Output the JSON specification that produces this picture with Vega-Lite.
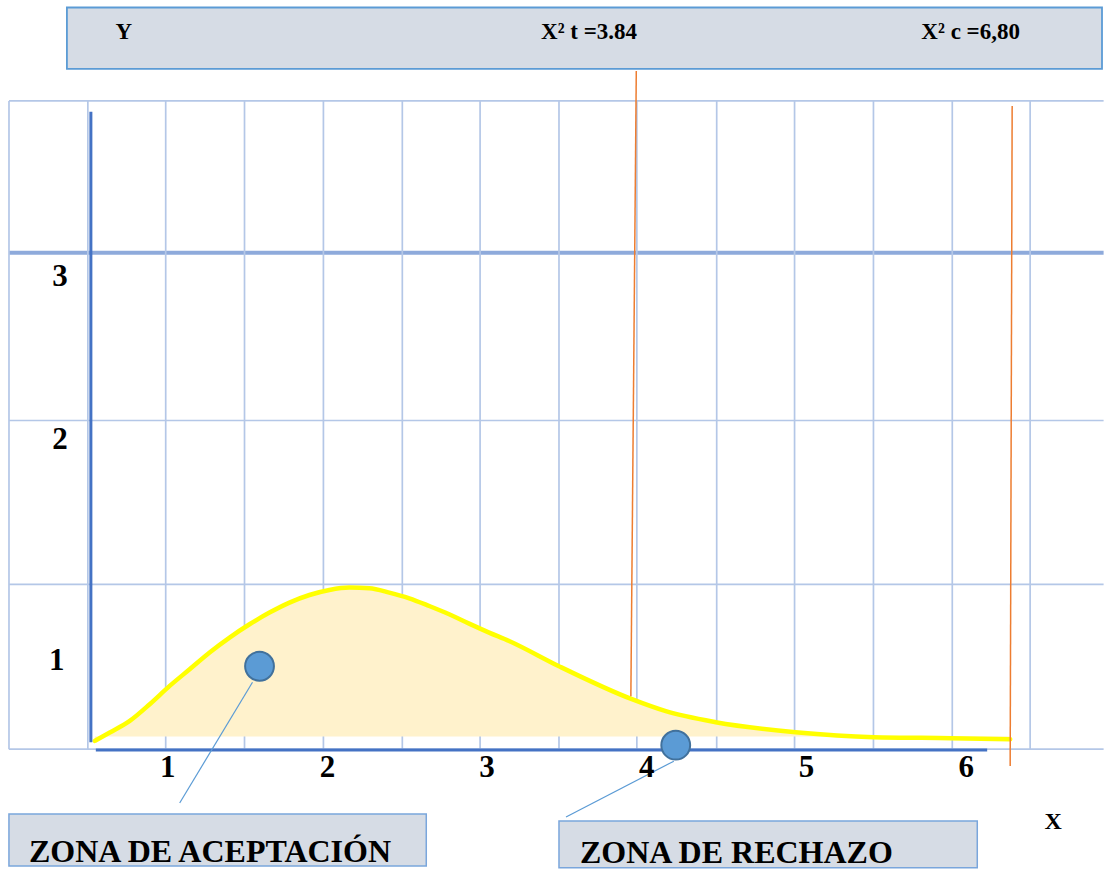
{
  "$schema": "https://vega.github.io/schema/vega-lite/v6.json",
  "width": 1106,
  "height": 870,
  "autosize": {"type": "fit", "contains": "padding"},
  "padding": 0,
  "background": "white",
  "config": {"view": {"stroke": null}},
  "datasets": {
    "hgrid": [
      {"y": 3.933, "x": 0.00625, "x2": 6.86},
      {"y": 1.994, "x": 0.00625, "x2": 6.86},
      {"y": 1.0, "x": 0.00625, "x2": 6.86},
      {"y": 0.0, "x": 0.00625, "x2": 6.86}
    ],
    "hthick": [{"y": 3.012, "x": 0.00625, "x2": 6.86}],
    "vgrid": [
      {"x": 0.00625, "y": 3.933, "y2": 0}, {"x": 0.5, "y": 3.933, "y2": 0}, {"x": 0.9875, "y": 3.933, "y2": 0},
      {"x": 1.481, "y": 3.933, "y2": 0}, {"x": 1.975, "y": 3.933, "y2": 0}, {"x": 2.469, "y": 3.933, "y2": 0},
      {"x": 2.956, "y": 3.933, "y2": 0}, {"x": 3.45, "y": 3.933, "y2": 0}, {"x": 3.9375, "y": 3.933, "y2": 0},
      {"x": 4.4375, "y": 3.933, "y2": 0}, {"x": 4.925, "y": 3.933, "y2": 0}, {"x": 5.419, "y": 3.933, "y2": 0},
      {"x": 5.9125, "y": 3.933, "y2": 0}, {"x": 6.4, "y": 3.933, "y2": 0}
    ],
    "curve": [
      {"x": 0.54375, "y": 0.0503}, {"x": 0.6375, "y": 0.1012}, {"x": 0.7625, "y": 0.1715}, {"x": 0.8875, "y": 0.2727},
      {"x": 1.0125, "y": 0.3836}, {"x": 1.1375, "y": 0.4848}, {"x": 1.2625, "y": 0.5867}, {"x": 1.3875, "y": 0.677},
      {"x": 1.5125, "y": 0.7576}, {"x": 1.6375, "y": 0.8285}, {"x": 1.7625, "y": 0.8891}, {"x": 1.8875, "y": 0.9352},
      {"x": 2.0125, "y": 0.9655}, {"x": 2.1375, "y": 0.98}, {"x": 2.2625, "y": 0.9758}, {"x": 2.3875, "y": 0.9497},
      {"x": 2.5125, "y": 0.9152}, {"x": 2.6375, "y": 0.8685}, {"x": 2.7625, "y": 0.8182}, {"x": 2.8875, "y": 0.7618},
      {"x": 3.0125, "y": 0.7073}, {"x": 3.1375, "y": 0.6564}, {"x": 3.45, "y": 0.503},
      {"x": 3.90625, "y": 0.303}, {"x": 4.11875, "y": 0.2303}, {"x": 4.43125, "y": 0.1636}, {"x": 4.93125, "y": 0.103},
      {"x": 5.41875, "y": 0.0727}, {"x": 5.90625, "y": 0.0667}, {"x": 6.275, "y": 0.0606}
    ],
    "segments": [
      {"kind": "critical", "x": 3.934, "y": 4.115, "x2": 3.9, "y2": 0.321},
      {"kind": "critical", "x": 6.2875, "y": 3.903, "x2": 6.275, "y2": -0.103},
      {"kind": "axis", "x": 0.519, "y": 3.867, "x2": 0.519, "y2": 0.042},
      {"kind": "axis", "x": 0.55, "y": -0.006, "x2": 6.131, "y2": -0.006},
      {"kind": "callout", "x": 1.531, "y": 0.406, "x2": 1.075, "y2": -0.327},
      {"kind": "callout", "x": 4.169, "y": -0.073, "x2": 3.494, "y2": -0.412}
    ],
    "points": [{"zona": "aceptación", "x": 1.575, "y": 0.503}, {"zona": "rechazo", "x": 4.181, "y": 0.024}],
    "boxes": [
      {"box": "top", "x": 0.369, "x2": 6.85, "y": 4.5, "y2": 4.127},
      {"box": "aceptación", "x": 0.006, "x2": 2.619, "y": -0.394, "y2": -0.709},
      {"box": "rechazo", "x": 3.45, "x2": 6.069, "y": -0.436, "y2": -0.72}
    ],
    "headerY": [{"text": "Y", "x": 0.725, "y": 4.352}],
    "header": [
      {"text": "X² t =3.84", "x": 3.3375, "y": 4.352},
      {"text": "X² c =6,80", "x": 5.719, "y": 4.352}
    ],
    "yticks": [{"text": "3", "x": 0.325, "y": 2.867}, {"text": "2", "x": 0.325, "y": 1.873}, {"text": "1", "x": 0.306, "y": 0.533}],
    "xticks": [{"text": "1", "x": 1, "y": -0.115}, {"text": "2", "x": 2, "y": -0.115}, {"text": "3", "x": 3, "y": -0.115}, {"text": "4", "x": 4, "y": -0.115}, {"text": "5", "x": 5, "y": -0.115}, {"text": "6", "x": 6, "y": -0.115}],
    "xtitle": [{"text": "X", "x": 6.544, "y": -0.442}],
    "zones": [{"text": "ZONA DE ACEPTACIÓN", "x": 0.13125, "y": -0.685}, {"text": "ZONA DE RECHAZO", "x": 3.581, "y": -0.691}]
  },
  "encoding": {
    "x": {"field": "x", "type": "quantitative", "axis": null, "scale": {"domain": [-0.05, 6.8625], "nice": false, "zero": false}},
    "y": {"field": "y", "type": "quantitative", "axis": null, "scale": {"domain": [-0.7273, 4.5455], "nice": false, "zero": false}}
  },
  "layer": [
    {
      "data": {"name": "hgrid"},
      "mark": {"type": "rule", "color": "#b4c7e7", "strokeWidth": 1.7},
      "encoding": {"x2": {"field": "x2"}}
    },
    {
      "data": {"name": "hthick"},
      "mark": {"type": "rule", "color": "#8eaadb", "strokeWidth": 4},
      "encoding": {"x2": {"field": "x2"}}
    },
    {
      "data": {"name": "vgrid"},
      "mark": {"type": "rule", "color": "#b4c7e7", "strokeWidth": 1.7},
      "encoding": {"y2": {"field": "y2"}}
    },
    {
      "data": {"name": "curve"},
      "mark": {"type": "area", "color": "#fff2cc", "interpolate": "monotone", "opacity": 1},
      "encoding": {"y2": {"datum": 0.076}}
    },
    {
      "data": {"name": "curve"},
      "mark": {"type": "line", "color": "#ffff00", "strokeWidth": 4.5, "interpolate": "monotone", "strokeCap": "round"},
      "encoding": {}
    },
    {
      "data": {"name": "segments"},
      "transform": [{"filter": "datum.kind === 'critical'"}],
      "mark": {"type": "rule", "color": "#ed7d31", "strokeWidth": 1.5},
      "encoding": {"x2": {"field": "x2"}, "y2": {"field": "y2"}}
    },
    {
      "data": {"name": "segments"},
      "transform": [{"filter": "datum.kind === 'axis'"}],
      "mark": {"type": "rule", "color": "#4472c4", "strokeWidth": 3},
      "encoding": {"x2": {"field": "x2"}, "y2": {"field": "y2"}}
    },
    {
      "data": {"name": "segments"},
      "transform": [{"filter": "datum.kind === 'callout'"}],
      "mark": {"type": "rule", "color": "#5b9bd5", "strokeWidth": 1.2},
      "encoding": {"x2": {"field": "x2"}, "y2": {"field": "y2"}}
    },
    {
      "data": {"name": "points"},
      "mark": {"type": "point", "shape": "circle", "filled": true, "fill": "#5b9bd5", "stroke": "#41719c", "strokeWidth": 2, "size": 830, "opacity": 1}
    },
    {
      "data": {"name": "boxes"},
      "transform": [{"filter": "datum.box === 'top'"}],
      "mark": {"type": "rect", "fill": "#d6dce5", "stroke": "#5b9bd5", "strokeWidth": 1.8},
      "encoding": {"x2": {"field": "x2"}, "y2": {"field": "y2"}}
    },
    {
      "data": {"name": "boxes"},
      "transform": [{"filter": "datum.box !== 'top'"}],
      "mark": {"type": "rect", "fill": "#d6dce5", "stroke": "#7aa6dc", "strokeWidth": 1.5},
      "encoding": {"x2": {"field": "x2"}, "y2": {"field": "y2"}}
    },
    {
      "data": {"name": "headerY"},
      "mark": {"type": "text", "font": "Liberation Serif", "fontWeight": "bold", "fontSize": 23, "baseline": "middle", "align": "center", "color": "black"},
      "encoding": {"text": {"field": "text"}}
    },
    {
      "data": {"name": "header"},
      "mark": {"type": "text", "font": "Liberation Serif", "fontWeight": "bold", "fontSize": 23, "baseline": "middle", "align": "left", "color": "black"},
      "encoding": {"text": {"field": "text"}}
    },
    {
      "data": {"name": "yticks"},
      "mark": {"type": "text", "font": "Liberation Serif", "fontWeight": "bold", "fontSize": 31, "baseline": "middle", "align": "center", "color": "black"},
      "encoding": {"text": {"field": "text"}}
    },
    {
      "data": {"name": "xticks"},
      "mark": {"type": "text", "font": "Liberation Serif", "fontWeight": "bold", "fontSize": 31, "baseline": "middle", "align": "center", "color": "black"},
      "encoding": {"text": {"field": "text"}}
    },
    {
      "data": {"name": "xtitle"},
      "mark": {"type": "text", "font": "Liberation Serif", "fontWeight": "bold", "fontSize": 24, "baseline": "middle", "align": "center", "color": "black"},
      "encoding": {"text": {"field": "text"}}
    },
    {
      "data": {"name": "zones"},
      "mark": {"type": "text", "font": "Liberation Serif", "fontWeight": "bold", "fontSize": 32, "baseline": "alphabetic", "align": "left", "color": "black"},
      "encoding": {"text": {"field": "text"}}
    }
  ]
}
